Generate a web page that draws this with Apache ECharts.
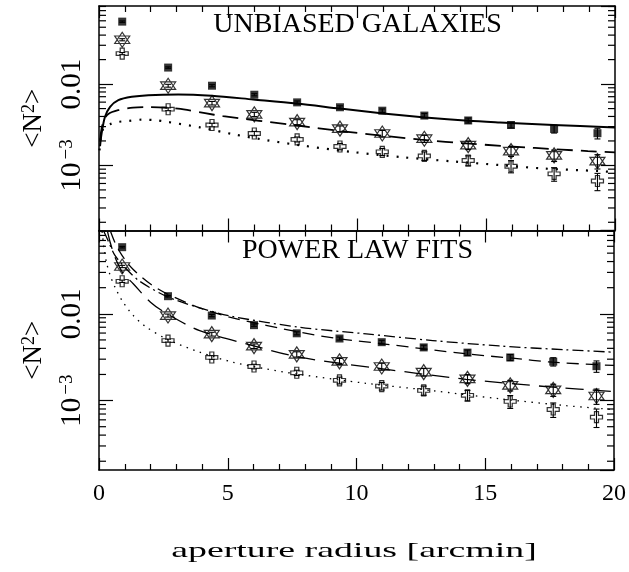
<!DOCTYPE html>
<html><head><meta charset="utf-8">
<script src="https://cdn.jsdelivr.net/npm/echarts@6/dist/echarts.min.js"></script>
<style>html,body{margin:0;padding:0;background:#fff}#c{width:629px;height:572px}</style>
</head><body><div id="c"></div>
<script>
// ---------- data ----------
const radii = [0.9, 2.68, 4.38, 6.02, 7.68, 9.34, 10.98, 12.61, 14.31, 15.97, 17.64, 19.32];
const squareVals = [0.0586, 0.01596, 0.00955, 0.00740, 0.00596, 0.00519, 0.00471, 0.00410, 0.00357, 0.00314, 0.00281, 0.00249];
const starVals   = [0.0351, 0.00955, 0.00583, 0.00424, 0.00341, 0.00283, 0.00247, 0.00213, 0.00178, 0.00150, 0.00133, 0.00113];
const crossVals  = [0.0237, 0.00491, 0.00314, 0.00247, 0.00209, 0.00171, 0.00147, 0.00131, 0.00115, 0.000977, 0.000789, 0.000644];
const squareErr = [0.02, 0.02, 0.03, 0.03, 0.04, 0.04, 0.05, 0.06, 0.07, 0.08, 0.11, 0.15];
const starErr   = [0.03, 0.04, 0.05, 0.06, 0.07, 0.08, 0.09, 0.10, 0.12, 0.14, 0.16, 0.20];
const crossErr  = [0.03, 0.04, 0.05, 0.06, 0.07, 0.09, 0.10, 0.12, 0.14, 0.17, 0.19, 0.24];

// top panel model curves
const solidX = [0.04, 0.10, 0.23, 0.43, 0.75, 1.27, 1.91, 3.07, 4.37, 5.98, 7.66, 9.34, 11.02, 12.64, 14.31, 15.54, 17.61, 20];
const solidY = [1.72e-3, 2.46e-3, 3.94e-3, 5.25e-3, 6.34e-3, 6.97e-3, 7.31e-3, 7.46e-3, 7.18e-3, 6.47e-3, 5.78e-3, 5.00e-3, 4.35e-3, 3.88e-3, 3.53e-3, 3.37e-3, 3.15e-3, 2.92e-3];
const dashX = [0.04, 0.10, 0.19, 0.35, 0.74, 1.32, 1.98, 3.06, 4.11, 4.81, 7.60, 9.46, 12.48, 14.38, 16.90, 18.95, 20];
const dashY = [2.04e-3, 2.84e-3, 3.60e-3, 4.27e-3, 4.78e-3, 5.13e-3, 5.20e-3, 4.99e-3, 4.39e-3, 4.03e-3, 3.12e-3, 2.63e-3, 2.07e-3, 1.85e-3, 1.64e-3, 1.50e-3, 1.45e-3];
const dotX = [0.02, 0.08, 0.17, 0.43, 0.75, 1.14, 1.66, 2.17, 2.64, 3.91, 5.19, 6.51, 7.79, 9.84, 11.78, 13.72, 15.54, 17.21, 19.42, 20];
const dotY = [1.53e-3, 2.28e-3, 2.84e-3, 3.21e-3, 3.43e-3, 3.52e-3, 3.65e-3, 3.60e-3, 3.43e-3, 2.94e-3, 2.42e-3, 2.04e-3, 1.77e-3, 1.46e-3, 1.26e-3, 1.12e-3, 1.01e-3, 9.18e-4, 8.51e-4, 8.26e-4];

// bottom panel power-law fits
const fitAX = [0.19, 0.35, 0.62, 1.12, 1.59, 2.64, 3.91, 5.19, 7.79, 10.38, 12.96, 15.54, 18.13, 20];
const fitAY = [8.89e-2, 7.00e-2, 4.70e-2, 3.16e-2, 2.36e-2, 1.58e-2, 1.17e-2, 9.31e-3, 7.00e-3, 5.87e-3, 4.92e-3, 4.26e-3, 3.85e-3, 3.61e-3];
const fitBX = [0.45, 0.62, 0.9, 1.3, 2.0, 2.64, 3.91, 5.19, 7.79, 9.34, 11.02, 14.25, 16.06, 17.61, 20];
const fitBY = [8.9e-2, 6.64e-2, 4.67e-2, 3.30e-2, 2.20e-2, 1.70e-2, 1.17e-2, 8.97e-3, 6.14e-3, 5.15e-3, 4.51e-3, 3.46e-3, 3.08e-3, 2.77e-3, 2.54e-3];
const fitCX = [0.33, 0.43, 0.62, 0.9, 1.33, 2.0, 2.62, 3.91, 5.97, 7.79, 11.02, 14.25, 17.61, 20];
const fitCY = [8.89e-2, 6.73e-2, 4.50e-2, 3.04e-2, 2.22e-2, 1.36e-2, 1.01e-2, 6.41e-3, 4.31e-3, 3.16e-3, 2.32e-3, 1.76e-3, 1.43e-3, 1.27e-3];
const fitDX = [0.12, 0.2, 0.30, 0.45, 0.62, 0.9, 1.14, 1.33, 1.78, 2.62, 3.91, 5.2, 6.5, 7.79, 10.38, 12.96, 15.54, 18.13, 20];
const fitDY = [8.89e-2, 5.62e-2, 3.80e-2, 2.69e-2, 2.03e-2, 1.41e-2, 1.12e-2, 9.55e-3, 7.24e-3, 5.13e-3, 3.61e-3, 2.77e-3, 2.31e-3, 2.00e-3, 1.58e-3, 1.30e-3, 1.05e-3, 8.75e-4, 7.87e-4];

// axes
const xRange = [0, 20];
const yRange = [1.585e-4, 0.0912];
const yTickValues = [1e-3, 1e-2];
const yTickLabels = ['10{sup|\u22123}', '0.01'];
const yMinorTicks = [2e-4,3e-4,4e-4,5e-4,6e-4,7e-4,8e-4,9e-4, 2e-3,3e-3,4e-3,5e-3,6e-3,7e-3,8e-3,9e-3, 2e-2,3e-2,4e-2,5e-2,6e-2,7e-2,8e-2,9e-2];
const panelTitles = ['UNBIASED GALAXIES', 'POWER LAW FITS'];
const xAxisTitle = 'aperture radius [arcmin]';
const yAxisTitle = '<N{sup|2}>';

// ---------- chart ----------
const F = '"Liberation Serif", "Times New Roman", serif';
const BLACK = '#000';
const chart = echarts.init(document.getElementById('c'), null, {renderer: 'canvas'});
const pairs = (xs, ys) => xs.map((x, i) => [x, ys[i]]);

function xAxisDef(gridIndex, position, showLabels) {
  return {
    type: 'value', gridIndex, position, min: xRange[0], max: xRange[1], interval: 5,
    axisLine: {show: true, onZero: false, lineStyle: {color: BLACK, width: 1.5}},
    axisTick: {show: true, inside: true, length: 12, lineStyle: {color: BLACK, width: 1.2}},
    minorTick: {show: true, splitNumber: 5, length: 6, lineStyle: {color: BLACK, width: 1.2}},
    splitLine: {show: false}, minorSplitLine: {show: false},
    axisLabel: {show: showLabels, margin: 12, fontFamily: F, fontSize: 24, color: BLACK}
  };
}
const supStyle = {fontSize: 19, fontFamily: F, color: BLACK, verticalAlign: 'top', lineHeight: 19, padding: [0, 0, 0, 3]};
function yAxisDef(gridIndex, position, showLabels) {
  return {
    type: 'log', logBase: 10, gridIndex, position, min: yRange[0], max: yRange[1],
    axisLine: {show: true, onZero: false, lineStyle: {color: BLACK, width: 1.5}},
    axisTick: {show: true, inside: true, length: 14, lineStyle: {color: BLACK, width: 1.2}},
    minorTick: {show: false}, splitLine: {show: false}, minorSplitLine: {show: false},
    axisLabel: {
      show: showLabels, rotate: 90, margin: 12, fontFamily: F, fontSize: 29, color: BLACK,
      align: 'center', verticalAlign: 'bottom', lineHeight: 29,
      showMinLabel: false, showMaxLabel: false,
      formatter: v => {
        for (let i = 0; i < yTickValues.length; i++) {
          if (Math.abs(Math.log10(v) - Math.log10(yTickValues[i])) < 1e-6) return yTickLabels[i];
        }
        return '';
      },
      rich: {sup: supStyle}
    },
    name: showLabels ? yAxisTitle : '', nameLocation: 'middle', nameRotate: 90, nameGap: 52,
    nameTextStyle: {fontFamily: F, fontSize: 27, color: BLACK, lineHeight: 27,
      rich: {sup: {fontSize: 18, fontFamily: F, color: BLACK, verticalAlign: 'top', lineHeight: 18}}}
  };
}
const starPath = 'path://M0,-10L8.66,5L-8.66,5Z M0,10L8.66,-5L-8.66,-5Z';
const crossPath = 'path://M-1,-3L1,-3L1,-1L3,-1L3,1L1,1L1,3L-1,3L-1,1L-3,1L-3,-1L-1,-1Z';

function errSeries(ai, vals, errs) {
  return {
    type: 'custom', xAxisIndex: ai * 2, yAxisIndex: ai * 2, silent: true, z: 3,
    data: radii.map((r, i) => [r, vals[i] * (1 - errs[i]), vals[i] * (1 + errs[i])]),
    encode: {x: 0, y: [1, 2]},
    renderItem: (p, api) => {
      const lo = api.coord([api.value(0), api.value(1)]);
      const hi = api.coord([api.value(0), api.value(2)]);
      const c = 3, st = {stroke: BLACK, lineWidth: 1.1};
      return {type: 'group', children: [
        {type: 'line', shape: {x1: lo[0], y1: lo[1], x2: hi[0], y2: hi[1]}, style: st},
        {type: 'line', shape: {x1: lo[0] - c, y1: lo[1], x2: lo[0] + c, y2: lo[1]}, style: st},
        {type: 'line', shape: {x1: hi[0] - c, y1: hi[1], x2: hi[0] + c, y2: hi[1]}, style: st}
      ]};
    }
  };
}
function minorTickSeries(ai) {
  return {
    type: 'custom', xAxisIndex: ai * 2, yAxisIndex: ai * 2, silent: true, z: 1,
    data: yMinorTicks.map(v => [xRange[0], v]), encode: {x: 0, y: 1},
    renderItem: (p, api) => {
      const v = api.value(1);
      const l = api.coord([xRange[0], v]), r = api.coord([xRange[1], v]);
      const st = {stroke: BLACK, lineWidth: 1.2};
      return {type: 'group', children: [
        {type: 'line', shape: {x1: l[0], y1: l[1], x2: l[0] + 7, y2: l[1]}, style: st},
        {type: 'line', shape: {x1: r[0], y1: r[1], x2: r[0] - 7, y2: r[1]}, style: st}
      ]};
    }
  };
}
function markerSeries(ai) {
  const open = {color: 'rgba(0,0,0,0)', borderColor: BLACK, borderWidth: 1.2};
  return [
    {type: 'scatter', xAxisIndex: ai * 2, yAxisIndex: ai * 2, data: pairs(radii, squareVals), symbol: 'rect', symbolSize: 8, itemStyle: {color: BLACK}, z: 5, silent: true},
    {type: 'scatter', xAxisIndex: ai * 2, yAxisIndex: ai * 2, data: pairs(radii, starVals), symbol: starPath, symbolSize: [15, 15], itemStyle: open, z: 5, silent: true},
    {type: 'scatter', xAxisIndex: ai * 2, yAxisIndex: ai * 2, data: pairs(radii, crossVals), symbol: crossPath, symbolSize: [12, 11], itemStyle: open, z: 5, silent: true},
    errSeries(ai, squareVals, squareErr), errSeries(ai, starVals, starErr), errSeries(ai, crossVals, crossErr),
    minorTickSeries(ai)
  ];
}
function lineSeries(ai, xs, ys, width, type) {
  return {type: 'line', xAxisIndex: ai * 2, yAxisIndex: ai * 2, data: pairs(xs, ys), symbol: 'none', showSymbol: false,
    smooth: 0.3, clip: true, silent: true, z: 2, lineStyle: {color: BLACK, width, type, cap: 'butt'}};
}

const option = {
  animation: false,
  backgroundColor: '#fff',
  grid: [
    {left: 99, top: 6, width: 516, height: 224.5, containLabel: false},
    {left: 99, top: 230.5, width: 516, height: 239.5, containLabel: false}
  ],
  xAxis: [xAxisDef(0, 'bottom', false), xAxisDef(0, 'top', false), xAxisDef(1, 'bottom', true), xAxisDef(1, 'top', false)],
  yAxis: [yAxisDef(0, 'left', true), yAxisDef(0, 'right', false), yAxisDef(1, 'left', true), yAxisDef(1, 'right', false)],
  series: [
    lineSeries(0, solidX, solidY, 2, 'solid'),
    lineSeries(0, dashX, dashY, 1.8, [16, 8]),
    lineSeries(0, dotX, dotY, 2.2, [2, 8]),
    ...markerSeries(0),
    lineSeries(1, fitAX, fitAY, 1.3, [11, 4, 2, 4]),
    lineSeries(1, fitBX, fitBY, 1.3, [12, 7]),
    lineSeries(1, fitCX, fitCY, 1.3, [18, 9]),
    lineSeries(1, fitDX, fitDY, 1.3, [1.5, 5.5]),
    ...markerSeries(1)
  ],
  graphic: [
    {type: 'text', x: 357.5, y: 25, silent: true, style: {text: panelTitles[0], x: 0, y: 0, align: 'center', verticalAlign: 'middle', font: '28px ' + F, fill: BLACK}},
    {type: 'text', x: 357.5, y: 251, silent: true, style: {text: panelTitles[1], x: 0, y: 0, align: 'center', verticalAlign: 'middle', font: '28px ' + F, fill: BLACK}},
    {type: 'text', x: 354, y: 551, scaleX: 1.72, silent: true, style: {text: xAxisTitle, x: 0, y: 0, align: 'center', verticalAlign: 'middle', font: '22px ' + F, fill: BLACK}}
  ]
};
chart.setOption(option);
</script>
</body></html>
